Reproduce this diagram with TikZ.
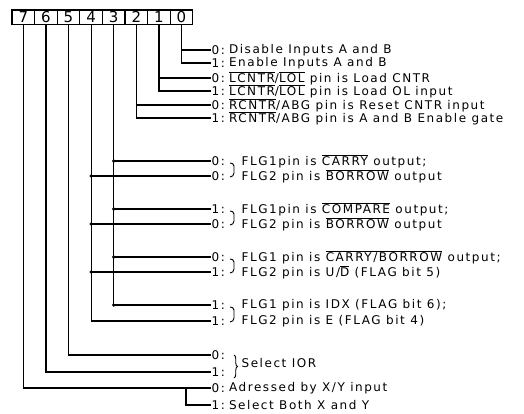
\documentclass[tikz,border=0pt]{standalone}
\usepackage{fontspec}
\setmainfont{DejaVu Sans}
\newfontfamily\regfont[LetterSpace=13]{DejaVu Sans}
\usetikzlibrary{positioning,decorations.pathreplacing}
\newcommand{\ovl}[1]{$\overline{\mbox{#1}}$}

\begin{document}
\begin{tikzpicture}[
    x=1pt,
    y=-1pt,
    bitbox/.style={
        draw,
        minimum width=22.6pt,
        minimum height=14.5pt,
        inner sep=0pt,
        outer sep=0pt,
        font=\fontsize{15}{15}\selectfont,
    },
    bitval/.style={anchor=west, inner sep=0pt, font=\regfont\fontsize{12}{12}\selectfont},
    note/.style={anchor=west, inner sep=0pt, font=\regfont\fontsize{12}{12}\selectfont},
    dot/.style={circle, fill, inner sep=0pt, minimum size=3.6pt},
    brk/.style={line width=0.9pt},
    every path/.style={line width=1.2pt},
    ]
    \useasboundingbox (0,0) rectangle (524,414);

    % register bits
    \node[bitbox, anchor=north west] (b7) at (12,10) {7};
    \node[bitbox, right=0pt of b7] (b6) {6};
    \node[bitbox, right=0pt of b6] (b5) {5};
    \node[bitbox, right=0pt of b5] (b4) {4};
    \node[bitbox, right=0pt of b4] (b3) {3};
    \node[bitbox, right=0pt of b3] (b2) {2};
    \node[bitbox, right=0pt of b2] (b1) {1};
    \node[bitbox, right=0pt of b1] (b0) {0};

    % bits 0..2
    \node[bitval] (r1) at (211,50) {0:};
    \node[note, right=3pt of r1] {Disable Inputs A and B};
    \node[bitval] (r2) at (211,63) {1:};
    \node[note, right=3pt of r2] {Enable Inputs A and B};
    \node[bitval] (r3) at (211,78) {0:};
    \node[note, right=3pt of r3] {\ovl{LCNTR}/\ovl{LOL} pin is Load CNTR};
    \node[bitval] (r4) at (211,91) {1:};
    \node[note, right=3pt of r4] {\ovl{LCNTR}/\ovl{LOL} pin is Load OL input};
    \node[bitval] (r5) at (211,105) {0:};
    \node[note, right=3pt of r5] {\ovl{RCNTR}/ABG pin is Reset CNTR input};
    \node[bitval] (r6) at (211,118) {1:};
    \node[note, right=3pt of r6] {\ovl{RCNTR}/ABG pin is A and B Enable gate};

    % bits 3 and 4
    \node[bitval] (r7) at (211,161) {0:};
    \node[note] at (241,161) {FLG1pin is \ovl{CARRY} output;};
    \node[bitval] (r8) at (211,176) {0:};
    \node[note] at (241,176) {FLG2 pin is \ovl{BORROW} output};
    \node[bitval] (r9) at (211,209) {1:};
    \node[note] at (241,209) {FLG1pin is \ovl{COMPARE} output;};
    \node[bitval] (r10) at (211,224) {0:};
    \node[note] at (241,224) {FLG2 pin is \ovl{BORROW} output};
    \node[bitval] (r11) at (211,257) {0:};
    \node[note] at (241,257) {FLG1 pin is \ovl{CARRY/BORROW} output;};
    \node[bitval] (r12) at (211,272) {1:};
    \node[note] at (241,272) {FLG2 pin is U/\ovl{D} (FLAG bit 5)};
    \node[bitval] (r13) at (211,305) {1:};
    \node[note] at (241,305) {FLG1 pin is IDX (FLAG bit 6);};
    \node[bitval] (r14) at (211,321) {1:};
    \node[note] at (241,321) {FLG2 pin is E (FLAG bit 4)};

    % bits 5..7
    \node[bitval] (r15) at (211,355) {0:};
    \node[bitval] (r16) at (211,372) {1:};
    \node[note] at (241,363) {Select IOR};
    \node[bitval] (r17) at (211,388) {0:};
    \node[note, right=3pt of r17] {Adressed by X/Y input};
    \node[bitval] (r18) at (211,405) {1:};
    \node[note, right=3pt of r18] {Select Both X and Y};

    % brackets
    \foreach \ya/\yb in {161/176, 209/224, 257/272, 305/321}
        \draw[brk] (230,\ya+2) to[out=0,in=90] (234,\ya+5)
            -- (234,\yb-3) to[out=-90,in=0] (230,\yb+1);
    \draw[brk, decorate, decoration={brace, amplitude=3.5pt}] (234,355) -- (234,378);

    % connectors
    \draw (b0.south) |- (r1.west);
    \draw (b0.south) |- (r2.west);
    \draw (b1.south) |- (r3.west);
    \draw (b1.south) |- (r4.west);
    \draw (b2.south) |- (r5.west);
    \draw (b2.south) |- (r6.west);
    \draw (b3.south) |- (r7.west);
    \draw (b3.south) |- (r9.west);
    \draw (b3.south) |- (r11.west);
    \draw (b3.south) |- (r13.west);
    \draw (b4.south) |- (r8.west);
    \draw (b4.south) |- (r10.west);
    \draw (b4.south) |- (r12.west);
    \draw (b4.south) |- (r14.west);
    \draw (b5.south) |- (r15.west);
    \draw (b6.south) |- (r16.west);
    \draw (b7.south) |- (r17.west);
    \coordinate (fork) at ([xshift=-25pt]r17.west);
    \draw (fork) |- (r18.west);

    % junction dots
    \node[dot] at (b3.south |- r7.west) {};
    \node[dot] at (b3.south |- r9.west) {};
    \node[dot] at (b3.south |- r11.west) {};
    \node[dot] at (b3.south |- r13.west) {};
    \node[dot] at (b4.south |- r8.west) {};
    \node[dot] at (b4.south |- r10.west) {};
    \node[dot] at (b4.south |- r12.west) {};
\end{tikzpicture}
\end{document}
